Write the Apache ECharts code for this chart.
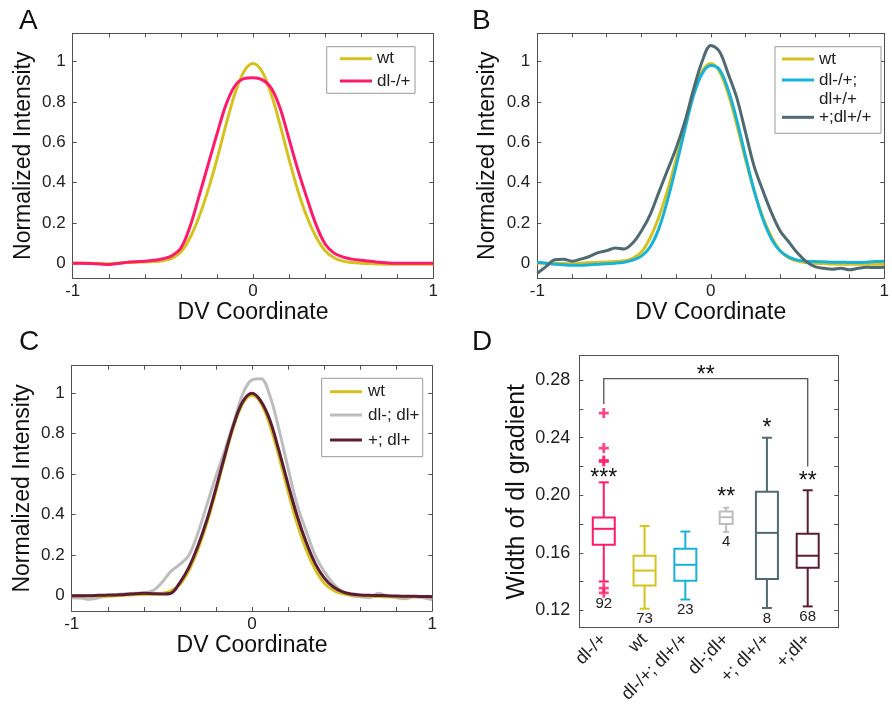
<!DOCTYPE html>
<html><head><meta charset="utf-8">
<script src="https://cdn.jsdelivr.net/npm/echarts@6/dist/echarts.min.js"></script>
<style>html,body{margin:0;padding:0;background:#fff}#c{width:892px;height:713px}</style>
</head><body><div id="c"></div>
<script>
// ---------------- DATA ----------------
const dvX = [-1,-0.95,-0.9,-0.85,-0.8,-0.75,-0.7,-0.65,-0.6,-0.55,-0.5,-0.45,-0.4,-0.35,-0.3,-0.25,-0.2,-0.15,-0.1,-0.05,0,0.05,0.1,0.15,0.2,0.25,0.3,0.35,0.4,0.45,0.5,0.55,0.6,0.65,0.7,0.75,0.8,0.85,0.9,0.95,1];

const wtProfile = [0.000,0.000,0.000,-0.002,-0.003,0.000,0.003,0.005,0.006,0.008,0.012,0.024,0.055,0.125,0.228,0.360,0.515,0.686,0.841,0.951,0.990,0.951,0.841,0.686,0.515,0.357,0.228,0.130,0.062,0.027,0.010,0.003,0.000,-0.002,-0.004,-0.005,-0.005,-0.005,-0.005,-0.005,-0.005];
const dlHetProfile = [0.000,0.000,-0.002,-0.004,-0.006,-0.002,0.004,0.007,0.009,0.014,0.022,0.037,0.075,0.180,0.330,0.485,0.640,0.785,0.880,0.915,0.920,0.910,0.870,0.770,0.615,0.460,0.320,0.190,0.095,0.050,0.030,0.020,0.014,0.009,0.005,0.001,0.000,0.000,0.000,0.000,0.000];
const dlHetDlHomProfile = [0.005,0.000,-0.005,-0.008,-0.010,-0.010,-0.008,-0.005,-0.003,0.000,0.005,0.015,0.035,0.080,0.170,0.310,0.480,0.660,0.830,0.940,0.980,0.960,0.860,0.710,0.530,0.360,0.220,0.120,0.060,0.030,0.015,0.010,0.008,0.007,0.005,0.005,0.003,0.003,0.005,0.008,0.010];
const plusDlHomProfile = [-0.050,-0.017,0.017,0.020,0.010,0.020,0.033,0.052,0.062,0.075,0.070,0.100,0.160,0.240,0.350,0.460,0.570,0.700,0.860,1.000,1.080,1.050,0.940,0.820,0.650,0.480,0.360,0.250,0.160,0.105,0.050,0.008,-0.017,-0.025,-0.030,-0.025,-0.033,-0.025,-0.020,-0.022,-0.020];
const dlMinusDlPlusProfile = [-0.010,-0.012,-0.018,-0.010,0.000,0.005,0.010,0.012,0.015,0.025,0.065,0.120,0.155,0.200,0.310,0.450,0.590,0.720,0.860,1.000,1.066,1.072,0.985,0.820,0.630,0.450,0.320,0.200,0.120,0.060,0.020,0.000,-0.005,-0.010,0.012,0.000,-0.010,-0.015,-0.005,-0.010,-0.020];
const plusDlPlusProfile = [0.000,0.000,0.000,0.002,0.003,0.004,0.006,0.010,0.012,0.010,0.008,0.012,0.065,0.140,0.245,0.375,0.530,0.695,0.850,0.960,1.000,0.960,0.865,0.715,0.550,0.395,0.265,0.160,0.088,0.044,0.020,0.008,0.004,0.002,0.001,0.000,-0.002,-0.003,-0.003,-0.004,-0.005];

const namesA = ['wt','dl-/+'];
const namesB = ['wt','dl-/+; dl+/+','+;dl+/+'];
const namesC = ['wt','dl-; dl+','+; dl+'];

const boxCategories = ['dl-/+','wt','dl-/+; dl+/+','dl-;dl+','+; dl+/+','+;dl+'];
const boxLow    = [0.1401,0.1212,0.1276,0.1746,0.1217,0.1228];
const boxQ1     = [0.1656,0.1373,0.1406,0.1800,0.1418,0.1496];
const boxMedian = [0.1767,0.1477,0.1517,0.1848,0.1739,0.1580];
const boxQ3     = [0.1845,0.1580,0.1628,0.1887,0.2025,0.1732];
const boxHigh   = [0.2090,0.1787,0.1748,0.1914,0.2400,0.2035];
const outlierGroup  = [1,1,1,1,1,1];
const outlierValues = [0.2571,0.2328,0.2242,0.2235,0.1355,0.1322];
const sampleSizes = ['92','73','23','4','8','68'];
const significance = ['***','','','**','*','**'];
const bracketX = [1,1,6,6];
const bracketY = [0.2634,0.2811,0.2811,0.2200];
const bracketLabel = '**';

const lineYTicks = [0,0.2,0.4,0.6,0.8,1];
const lineXTicks = [-1,-0.8,-0.6,-0.4,-0.2,0,0.2,0.4,0.6,0.8,1];
const lineXLabels = [-1,0,1];
const widthTicks = [0.12,0.14,0.16,0.18,0.2,0.22,0.24,0.26,0.28];
const widthLabels = [0.12,0.16,0.2,0.24,0.28];
const boxPositions = [1,2,3,4,5,6];

// ---------------- STYLE ----------------
const FONT = '"Liberation Sans", Arial, sans-serif';
const C_WT = '#d5c21e', C_HET = '#ff1a6c', C_CYAN = '#19b2d6', C_SLATE = '#4f6a70', C_GRAY = '#bdbdbd', C_MAROON = '#5b1c35';
const AX = '#505050';
const boxColors = [C_HET, C_WT, C_CYAN, C_GRAY, C_SLATE, C_MAROON];
const boxPx = [22,22,22,13,22,22];
const starLift = [10,0,0,17,16,15];

const grids = [
  {left:72.7, top:33.3, width:360.6, height:245},
  {left:537.3, top:33.3, width:358.8, height:245},
  {left:71.7, top:365.7, width:360.6, height:245.3},
  {left:579.3, top:355.7, width:259, height:272}
];
const yRanges = [[-0.075,1.14],[-0.075,1.14],[-0.0756,1.136]];

function pairs(ys){ return dvX.map((x,i)=>[x, ys[i]]); }

const xAxes = [], yAxes = [];
for (let g=0; g<3; g++){
  xAxes.push({gridIndex:g, type:'value', min:-1, max:1, position:'bottom',
    axisLine:{show:true, onZero:false, lineStyle:{color:AX,width:1}},
    axisTick:{show:true, inside:true, length:4, customValues:lineXTicks, lineStyle:{color:AX}},
    axisLabel:{customValues:lineXLabels, fontSize:17, color:'#222', fontFamily:FONT, margin:5},
    splitLine:{show:false},
    name:'DV Coordinate', nameLocation:'middle', nameGap:20,
    nameTextStyle:{fontSize:23, color:'#111', fontFamily:FONT}});
  xAxes.push({gridIndex:g, type:'value', min:-1, max:1, position:'top',
    axisLine:{show:true, onZero:false, lineStyle:{color:AX,width:1}},
    axisTick:{show:true, inside:true, length:4, customValues:lineXTicks, lineStyle:{color:AX}},
    axisLabel:{show:false}, splitLine:{show:false}});
  yAxes.push({gridIndex:g, type:'value', min:yRanges[g][0], max:yRanges[g][1], position:'left',
    axisLine:{show:true, onZero:false, lineStyle:{color:AX,width:1}},
    axisTick:{show:true, inside:true, length:4, customValues:lineYTicks, lineStyle:{color:AX}},
    axisLabel:{customValues:lineYTicks, fontSize:17, color:'#222', fontFamily:FONT, margin:7},
    splitLine:{show:false},
    name:'Normalized Intensity', nameLocation:'middle', nameGap:38,
    nameTextStyle:{fontSize:23, color:'#111', fontFamily:FONT}});
  yAxes.push({gridIndex:g, type:'value', min:yRanges[g][0], max:yRanges[g][1], position:'right',
    axisLine:{show:true, onZero:false, lineStyle:{color:AX,width:1}},
    axisTick:{show:true, inside:true, length:4, customValues:lineYTicks, lineStyle:{color:AX}},
    axisLabel:{show:false}, splitLine:{show:false}});
}
// panel D axes (xAxis index 6,7 ; yAxis index 6,7)
xAxes.push({gridIndex:3, type:'value', min:0.4, max:6.75, position:'bottom',
  axisLine:{show:true, onZero:false, lineStyle:{color:AX,width:1}},
  axisTick:{show:false},
  axisLabel:{customValues:boxPositions, rotate:45, fontSize:18, color:'#222', fontFamily:FONT, margin:9,
    formatter:v=>boxCategories[Math.round(v)-1]},
  splitLine:{show:false}});
xAxes.push({gridIndex:3, type:'value', min:0.4, max:6.75, position:'top',
  axisLine:{show:true, onZero:false, lineStyle:{color:AX,width:1}},
  axisTick:{show:false}, axisLabel:{show:false}, splitLine:{show:false}});
yAxes.push({gridIndex:3, type:'value', min:0.108, max:0.297, position:'left',
  axisLine:{show:true, onZero:false, lineStyle:{color:AX,width:1}},
  axisTick:{show:true, inside:true, length:4, customValues:widthTicks, lineStyle:{color:AX}},
  axisLabel:{customValues:widthLabels, fontSize:18, color:'#222', fontFamily:FONT, margin:9,
    formatter:v=>v.toFixed(2)},
  splitLine:{show:false},
  name:'Width of dl gradient', nameLocation:'middle', nameGap:50,
  nameTextStyle:{fontSize:25, color:'#111', fontFamily:FONT}});
yAxes.push({gridIndex:3, type:'value', min:0.108, max:0.297, position:'right',
  axisLine:{show:true, onZero:false, lineStyle:{color:AX,width:1}},
  axisTick:{show:true, inside:true, length:4, customValues:widthTicks, lineStyle:{color:AX}},
  axisLabel:{show:false}, splitLine:{show:false}});

function lineSeries(name, ys, color, g, width){
  return {type:'line', name, data:pairs(ys), xAxisIndex:g*2, yAxisIndex:g*2,
    smooth:0.35, showSymbol:false, symbol:'none',
    lineStyle:{color, width:width||3}, itemStyle:{color}, z:3, clip:true};
}

const series = [
  lineSeries(namesA[0], wtProfile, C_WT, 0),
  lineSeries(namesA[1], dlHetProfile, C_HET, 0),
  lineSeries(namesB[0], wtProfile, C_WT, 1),
  lineSeries(namesB[1], dlHetDlHomProfile, C_CYAN, 1),
  lineSeries(namesB[2], plusDlHomProfile, C_SLATE, 1),
  lineSeries(namesC[1], dlMinusDlPlusProfile, C_GRAY, 2),
  lineSeries(namesC[0], wtProfile, C_WT, 2),
  lineSeries(namesC[2], plusDlPlusProfile, C_MAROON, 2),
  { // boxes
    type:'custom', xAxisIndex:6, yAxisIndex:6, z:5,
    data: boxCategories.map((c,i)=>[boxPositions[i], boxLow[i], boxQ1[i], boxMedian[i], boxQ3[i], boxHigh[i]]),
    encode:{x:0, y:[1,2,3,4,5]},
    renderItem:function(params, api){
      const i = params.dataIndex;
      const x = api.value(0);
      const pLow = api.coord([x, api.value(1)]);
      const pQ1 = api.coord([x, api.value(2)]);
      const pMed = api.coord([x, api.value(3)]);
      const pQ3 = api.coord([x, api.value(4)]);
      const pHigh = api.coord([x, api.value(5)]);
      const cx = pLow[0], bw = boxPx[i], cw = bw*0.45;
      const col = boxColors[i];
      const st = {stroke:col, lineWidth:2, fill:null};
      const ch = [
        {type:'rect', shape:{x:cx-bw/2, y:pQ3[1], width:bw, height:pQ1[1]-pQ3[1]}, style:st},
        {type:'line', shape:{x1:cx-bw/2, y1:pMed[1], x2:cx+bw/2, y2:pMed[1]}, style:st},
        {type:'line', shape:{x1:cx, y1:pHigh[1], x2:cx, y2:pQ3[1]}, style:st},
        {type:'line', shape:{x1:cx, y1:pQ1[1], x2:cx, y2:pLow[1]}, style:st},
        {type:'line', shape:{x1:cx-cw/2, y1:pHigh[1], x2:cx+cw/2, y2:pHigh[1]}, style:st},
        {type:'line', shape:{x1:cx-cw/2, y1:pLow[1], x2:cx+cw/2, y2:pLow[1]}, style:st}
      ];
      let lowest = boxLow[i];
      outlierValues.forEach((v,k)=>{ if (outlierGroup[k]===x && v<lowest) lowest=v; });
      const pLowest = api.coord([x, lowest]);
      ch.push({type:'text', style:{text:sampleSizes[i], x:cx, y:pLowest[1]+3, align:'center', verticalAlign:'top',
        fontSize:15, fontFamily:FONT, fill:'#222'}});
      if (significance[i]) ch.push({type:'text', style:{text:significance[i], x:cx, y:pHigh[1]-starLift[i]-5, align:'center', verticalAlign:'top',
        fontSize:23, fontFamily:FONT, fill:'#111'}});
      return {type:'group', children:ch};
    }
  },
  { // outliers
    type:'scatter', xAxisIndex:6, yAxisIndex:6, z:6,
    data: outlierValues.map((v,k)=>[outlierGroup[k], v]),
    symbol:'path://M0,3.6H10V6.4H0Z M3.6,0H6.4V10H3.6Z', symbolSize:10,
    itemStyle:{color:C_HET}, silent:true
  },
  { // significance bracket
    type:'custom', xAxisIndex:6, yAxisIndex:6, z:4,
    data:[[bracketX[0], bracketY[0]]],
    renderItem:function(params, api){
      const pts = bracketX.map((bx,k)=>api.coord([bx, bracketY[k]]));
      const mid = api.coord([(bracketX[1]+bracketX[2])/2, bracketY[1]]);
      return {type:'group', children:[
        {type:'polyline', shape:{points:pts}, style:{stroke:'#555', lineWidth:1.3, fill:null}},
        {type:'text', style:{text:bracketLabel, x:mid[0], y:mid[1]-14, align:'center', verticalAlign:'top',
          fontSize:23, fontFamily:FONT, fill:'#111'}}
      ]};
    }
  }
];

// ---------------- LEGENDS & LETTERS (graphic) ----------------
function legendBox(box, names, colors, rowsY, lineX, textX, splitter){
  const els = [{type:'rect', shape:{x:box[0], y:box[1], width:box[2], height:box[3]},
    style:{fill:'#fff', stroke:'#999', lineWidth:1}, z:10}];
  names.forEach((n,k)=>{
    els.push({type:'line', shape:{x1:lineX, y1:rowsY[k], x2:lineX+32, y2:rowsY[k]},
      style:{stroke:colors[k], lineWidth:3}, z:11});
    els.push({type:'text', style:{text: splitter ? splitter(n) : n, x:textX, y:rowsY[k]-9.5, verticalAlign:'top',
      lineHeight:19, fontSize:17, fontFamily:FONT, fill:'#222'}, z:11});
  });
  return els;
}
function letter(t, x, y){
  return {type:'text', style:{text:t, x, y, fontSize:28, fontFamily:FONT, fill:'#111', verticalAlign:'top'}, z:10};
}
const graphics = [].concat(
  legendBox([326.7,46.7,88.3,46.6], namesA, [C_WT,C_HET], [58.7,81], 340, 377),
  legendBox([775,46.7,106,86.6], namesB, [C_WT,C_CYAN,C_SLATE], [59,80,117.3], 782, 819, n=>n.replace('; ',';\n')),
  legendBox([321.7,378.3,101,78.4], namesC, [C_WT,C_GRAY,C_MAROON], [391.7,415,440], 330, 368),
  [letter('A',19,6.8), letter('B',472,6.8), letter('C',19,328.5), letter('D',472,328.5)]
);

const chart = echarts.init(document.getElementById('c'), null, {renderer:'canvas'});
chart.setOption({
  animation:false,
  backgroundColor:'#fff',
  textStyle:{fontFamily:FONT},
  grid: grids.map(g=>Object.assign({containLabel:false}, g)),
  xAxis: xAxes,
  yAxis: yAxes,
  series: series,
  graphic: {elements: graphics}
});
</script>
</body></html>
